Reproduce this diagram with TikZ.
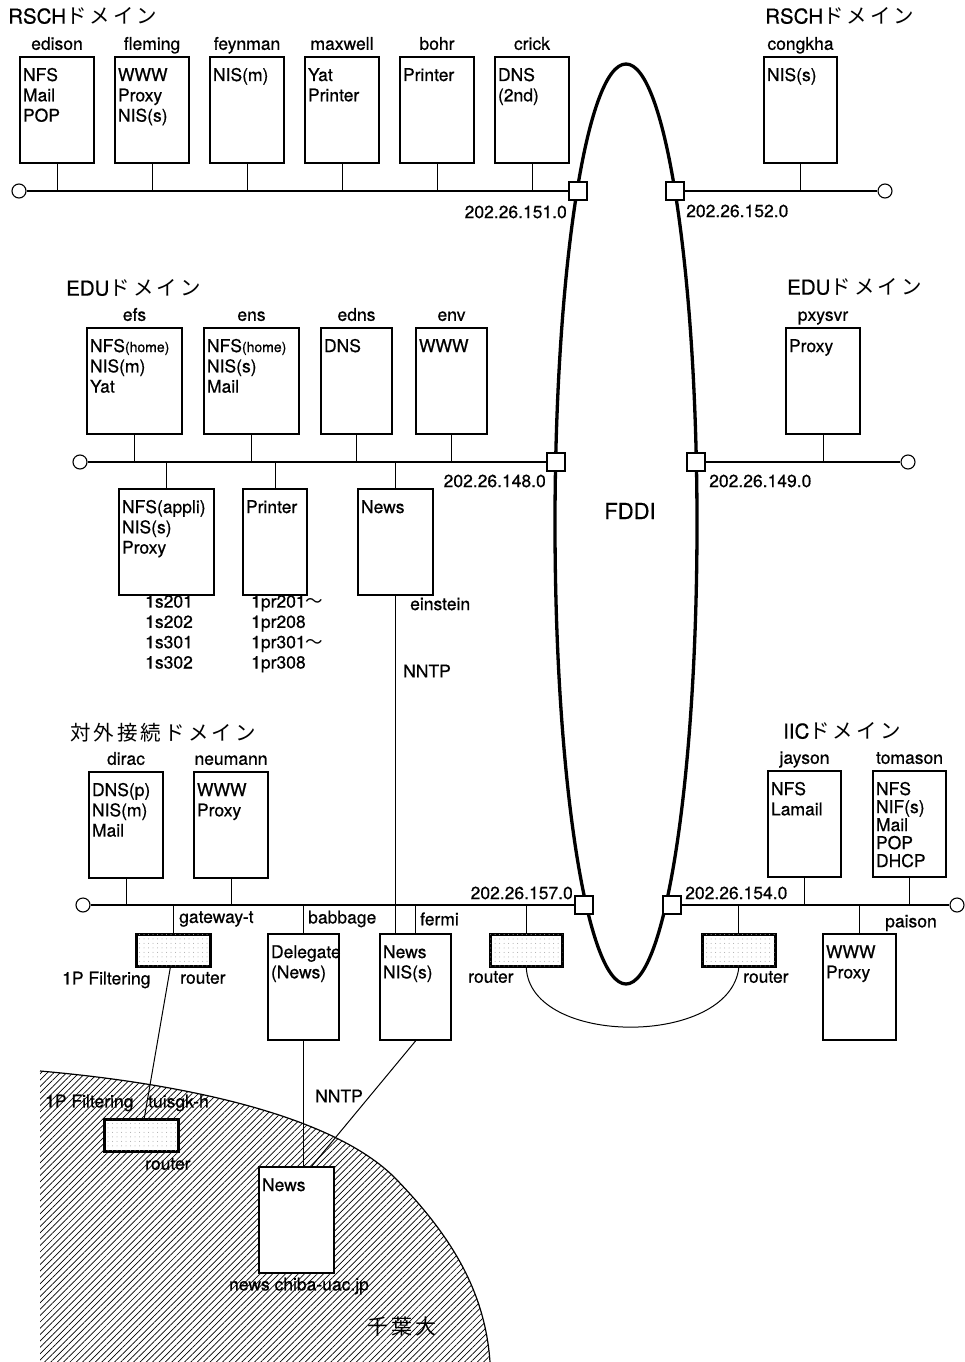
\documentclass[tikz,border=0pt]{standalone}
\usepackage{fontspec}
\usepackage{tikz}
\usetikzlibrary{positioning,calc,shapes.geometric,patterns.meta}
\setmainfont{TeX Gyre Heros}[FakeBold=0.6]
\newfontfamily\jp[LetterSpace=15]{Noto Sans CJK JP}
\newcommand\hfont{\fontsize{17.5}{20.3}\selectfont}
\newcommand\dfont{\fontsize{20.5}{24}\selectfont}
\newcommand\smtxt{\fontsize{14}{16}\selectfont}
\tikzset{
  hostbox/.style={rectangle, draw, line width=2pt, fill=white, anchor=north west, align=left,
                  font=\hfont, text width=#1-6pt, inner xsep=3pt, inner ysep=4pt,
                  text height=20pt, text depth=78pt},
  hname/.style={font=\hfont, inner sep=1pt, text depth=0pt, yshift=5pt},
  router/.style={rectangle, draw, line width=2.6pt, fill=white, anchor=north west, inner sep=0pt,
                 minimum width=74pt, minimum height=32pt,
                 postaction={pattern={Dots[radius=0.5pt, distance=4.5pt]}, pattern color=gray!70}},
  port/.style={rectangle, draw, line width=2pt, fill=white, minimum size=18pt, inner sep=0pt},
  term/.style={circle, draw, line width=1.1pt, fill=white, minimum size=14pt, inner sep=0pt},
  ring/.style={ellipse, draw, line width=3.3pt, minimum width=142pt, minimum height=920pt, inner sep=0pt},
  bus/.style={line width=1.4pt},
  stub/.style={line width=1pt},
  dtitle/.style={font=\dfont, inner sep=0pt, anchor=west},
  note/.style={font=\hfont, inner sep=0pt, anchor=west},
}
\begin{document}
\begin{tikzpicture}[x=1pt, y=-1pt]
  \useasboundingbox (0,0) rectangle (965,1362);
  % chiba
  \path[pattern={Lines[angle=45, distance=4.5pt, line width=0.7pt]}] (40,1362) -- (40,1071)
    .. controls (200,1085) and (340,1120) .. (397,1180) .. controls (450,1235) and (485,1290) .. (490,1362) -- cycle;
  \draw[line width=1.2pt] (40,1071) .. controls (200,1085) and (340,1120) .. (397,1180)
    .. controls (450,1235) and (485,1290) .. (490,1362);

  \node[ring] (fddi) at (626,524) {};
  \node[font=\fontsize{22}{26}\selectfont] (fddilbl) at (630,511) {FDDI};

  % RSCH
  \node[dtitle] (rsch1) at (8,16) {RSCH{\jp ドメイン}};
  \node[hostbox=74pt, label={[hname]above:edison}] (edison) at (19,56) {NFS\\Mail\\POP};
  \node[hostbox=74pt, right=19pt of edison, label={[hname]above:fleming}] (fleming) {WWW\\Proxy\\NIS(s)};
  \node[hostbox=74pt, right=19pt of fleming, label={[hname]above:feynman}] (feynman) {NIS(m)};
  \node[hostbox=74pt, right=19pt of feynman, label={[hname]above:maxwell}] (maxwell) {Yat\\Printer};
  \node[hostbox=74pt, right=19pt of maxwell, label={[hname]above:bohr}] (bohr) {Printer};
  \node[hostbox=74pt, right=19pt of bohr, label={[hname]above:crick}] (crick) {DNS\\(2nd)};
  \node[dtitle] (rsch2) at (765,16) {RSCH{\jp ドメイン}};
  \node[hostbox=73pt, label={[hname]above:congkha}] (congkha) at (763,56) {NIS(s)};
  \node[term] (t1) at (19,191) {};  \node[port] (s1) at (578,191) {};
  \node[port] (s2) at (675,191) {}; \node[term] (t2) at (885,191) {};
  \draw[bus] (t1)--(s1); \draw[bus] (s2)--(t2);
  \foreach \h in {edison,fleming,feynman,maxwell,bohr,crick} \draw[stub] (\h.south) -- (\h.south |- t1);
  \draw[stub] (congkha.south) -- (congkha.south |- t2);
  \node[note, anchor=east] (n151) at (567,212) {202.26.151.0};
  \node[note] (n152) at (686,211) {202.26.152.0};

  % EDU
  \node[dtitle] (edu1) at (66,288) {EDU{\jp ドメイン}};
  \node[hostbox=95pt, label={[hname]above:efs}] (efs) at (86,327) {NFS{\smtxt(home)}\\NIS(m)\\Yat};
  \node[hostbox=95pt, right=20pt of efs, label={[hname]above:ens}] (ens) {NFS{\smtxt(home)}\\NIS(s)\\Mail};
  \node[hostbox=71pt, right=20pt of ens, label={[hname]above:edns}] (edns) {DNS};
  \node[hostbox=71pt, right=22pt of edns, label={[hname]above:env}] (env) {WWW};
  \node[hostbox=95pt] (apl) at (118,488) {NFS(appli)\\NIS(s)\\Proxy};
  \node[hostbox=64pt] (prn) at (242,488) {Printer};
  \node[hostbox=75pt] (einstein) at (357,488) {News};
  \node[note, anchor=north west, align=left] (apllist) at (145,595) {1s201\\1s202\\1s301\\1s302};
  \node[note, anchor=north west, align=left] (prnlist) at (251,595) {1pr201{\jp ～}\\1pr208\\1pr301{\jp ～}\\1pr308};
  \node[note] (einlbl) at (410,604) {einstein};
  \node[note] (nntp1) at (403,671) {NNTP};
  \node[dtitle] (edu2) at (787,287) {EDU{\jp ドメイン}};
  \node[hostbox=74pt, label={[hname]above:pxysvr}] (pxysvr) at (785,327) {Proxy};
  \node[term] (t3) at (80,462) {};  \node[port] (s3) at (556,462) {};
  \node[port] (s4) at (696,462) {}; \node[term] (t4) at (908,462) {};
  \draw[bus] (t3)--(s3); \draw[bus] (s4)--(t4);
  \foreach \h in {efs,ens,edns,env} \draw[stub] (\h.south) -- (\h.south |- t3);
  \foreach \h in {apl,prn,einstein} \draw[stub] (\h.north) -- (\h.north |- t3);
  \draw[stub] (pxysvr.south) -- (pxysvr.south |- t4);
  \node[note, anchor=east] (n148) at (546,481) {202.26.148.0};
  \node[note] (n149) at (709,481) {202.26.149.0};

  % gaibu
  \node[dtitle] (ext) at (70,733) {{\jp 対外接続ドメイン}};
  \node[hostbox=74pt, label={[hname]above:dirac}] (dirac) at (88,771) {DNS(p)\\NIS(m)\\Mail};
  \node[hostbox=74pt, right=29pt of dirac, label={[hname]above:neumann}] (neumann) {WWW\\Proxy};
  \node[router] (gwt) at (135,933) {};
  \node[hostbox=71pt] (babbage) at (267,933) {Delegate\\(News)};
  \node[hostbox=71pt] (fermi) at (379,933) {News\\NIS(s)};
  \node[router, minimum width=72pt] (r5) at (489,933) {};
  \node[note] (gwtlbl) at (179,919) {gateway-t};
  \node[note] (babblbl) at (308,919) {babbage};
  \node[note] (fermilbl) at (420,919) {fermi};
  \node[note] (ipf1) at (62,980) {1P Filtering};
  \node[note] (rt1) at (180,978) {router};
  \node[note] (rt2) at (468,977) {router};
  \node[term] (t5) at (83,905) {}; \node[port] (s5) at (584,905) {};
  \draw[bus] (t5)--(s5);
  \foreach \h in {dirac,neumann} \draw[stub] (\h.south) -- (\h.south |- t5);
  \foreach \h in {gwt,babbage,fermi,r5} \draw[stub] (\h.north) -- (\h.north |- t5);
  \node[note, anchor=east] (n157) at (573,893) {202.26.157.0};

  % IIC
  \node[dtitle] (iic) at (783,731) {IIC{\jp ドメイン}};
  \node[hostbox=73pt, label={[hname]above:jayson}] (jayson) at (767,770) {NFS\\Lamail};
  \node[hostbox=73pt, right=30pt of jayson, font=\fontsize{17.5}{18}\selectfont, label={[hname]above:tomason}] (tomason) {NFS\\NIF(s)\\Mail\\POP\\DHCP};
  \node[router, minimum width=73pt] (r6) at (701,933) {};
  \node[hostbox=73pt] (paison) at (822,933) {WWW\\Proxy};
  \node[note] (paisonlbl) at (885,923) {paison};
  \node[note] (rt3) at (743,977) {router};
  \node[port] (s6) at (672,905) {}; \node[term] (t6) at (957,905) {};
  \draw[bus] (s6)--(t6);
  \foreach \h in {jayson,tomason} \draw[stub] (\h.south) -- (\h.south |- t6);
  \foreach \h in {r6,paison} \draw[stub] (\h.north) -- (\h.north |- t6);
  \node[note] (n154) at (685,893) {202.26.154.0};
  \draw[stub] (r5.south) .. controls (530,1047) and (730,1047) .. (r6.south);

  % chiba-dai
  \node[router] (tsk) at (103,1118) {};
  \node[hostbox=75pt] (cnews) at (258,1166) {News};
  \node[note] (ipf2) at (45,1103) {1P Filtering};
  \node[note] (tsklbl) at (148,1103) {tuisgk-h};
  \node[note] (rt4) at (145,1164) {router};
  \node[note] (nntp2) at (315,1096) {NNTP};
  \node[note, anchor=center] (cnewslbl) at (299,1286) {news chiba-uac.jp};
  \node[font=\jp\fontsize{21}{24}\selectfont, inner sep=0pt] (chiba) at (402,1327) {千葉大};
  \draw[stub] (einstein.south) -- (einstein.south |- fermi.north);
  \draw[stub] (gwt) -- (tsk);
  \draw[stub] (babbage.south) -- (babbage.south |- cnews.north);
  \draw[stub] (fermi.south) -- ($(cnews.north west)!0.7!(cnews.north east)$);
\end{tikzpicture}
\end{document}
